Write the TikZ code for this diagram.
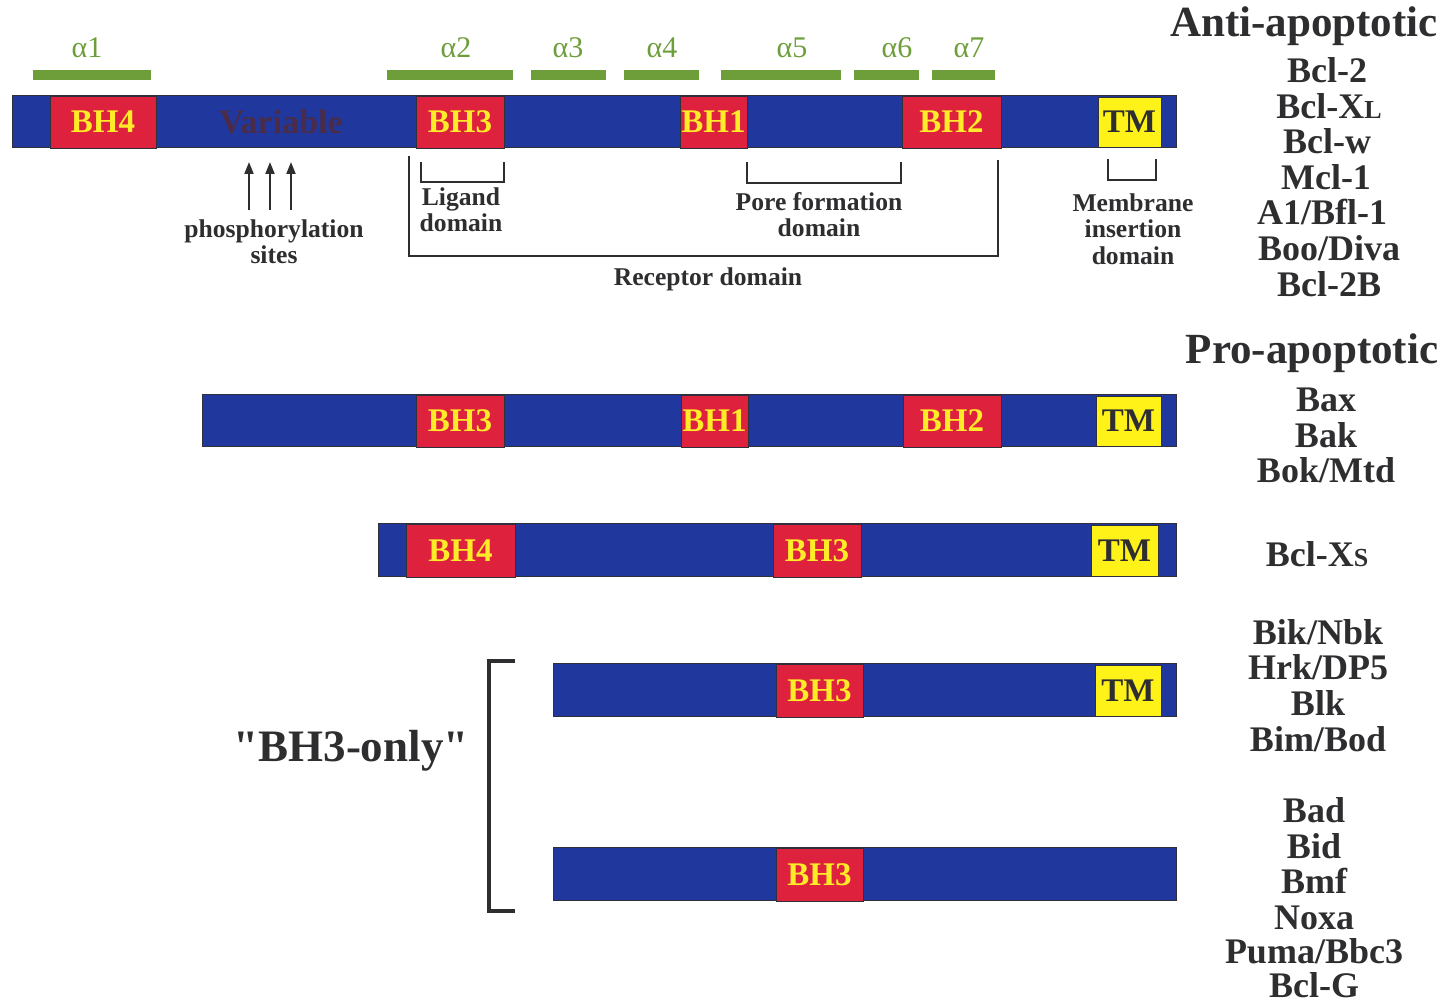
\documentclass[tikz,border=0pt]{standalone}
\usepackage{fontspec}
\setmainfont{Liberation Serif}
\newfontfamily\straightquotes{Liberation Serif}[Ligatures=TeXOff]
\usetikzlibrary{arrows.meta}

\definecolor{barblue}{RGB}{32,56,158}
\definecolor{bhred}{RGB}{222,34,62}
\definecolor{tmyellow}{RGB}{255,242,24}
\definecolor{bhyellow}{RGB}{255,236,40}
\definecolor{helixgreen}{RGB}{110,158,58}
\definecolor{inkgray}{RGB}{46,46,48}
\definecolor{edgegray}{RGB}{48,48,60}
\definecolor{varcolor}{RGB}{74,44,72}

\tikzset{
  protein/.style={fill=barblue, draw=edgegray, line width=0.5pt},
  bhbox/.style={fill=bhred, draw=edgegray, line width=0.4pt},
  tmbox/.style={fill=tmyellow, draw=edgegray, line width=0.4pt},
  bhlabel/.style={text=bhyellow, inner sep=0pt, font=\bfseries\fontsize{16.5}{18}\selectfont},
  tmlabel/.style={text=inkgray, inner sep=0pt, font=\bfseries\fontsize{16.5}{18}\selectfont},
  helix/.style={fill=helixgreen},
  helixlabel/.style={text=helixgreen, anchor=base, inner sep=0pt, font=\fontsize{15}{17}\selectfont},
  small/.style={text=inkgray, anchor=base, inner sep=0pt, font=\bfseries\fontsize{12.8}{14}\selectfont},
  family/.style={text=inkgray, anchor=base, inner sep=0pt, font=\bfseries\fontsize{18}{20}\selectfont},
  heading/.style={text=inkgray, anchor=base, inner sep=0pt, font=\bfseries\fontsize{21.5}{24}\selectfont},
  bracket/.style={draw=inkgray, line width=1.2pt},
  phos/.style={draw=inkgray, line width=1pt, -{Triangle[length=6pt,width=4.5pt]}}
}

% one coloured motif box on a protein bar, with its label
% #1 box style, #2 label style, #3 x1, #4 x2, #5 y1, #6 y2, #7 node name, #8 text
\newcommand\motifbox[8]{%
  \draw[#1] (#3,#5) rectangle (#4,#6);
  \node[#2] (#7) at ({(#3+#4)/2},{(#5+#6)/2}) {#8};}

\begin{document}
\begin{tikzpicture}[x=0.5pt, y=-0.5pt]
\useasboundingbox (0,0) rectangle (1448,1005);

% ---------------- alpha helices ----------------
\fill[helix] (33,70) rectangle (151,80);
\fill[helix] (387,70) rectangle (513,80);
\fill[helix] (531,70) rectangle (606,80);
\fill[helix] (624,70) rectangle (699,80);
\fill[helix] (721,70) rectangle (841,80);
\fill[helix] (854,70) rectangle (919,80);
\fill[helix] (932,70) rectangle (995,80);
\node[helixlabel] (h1) at (87,58) {α1};
\node[helixlabel] (h2) at (456,58) {α2};
\node[helixlabel] (h3) at (568,58) {α3};
\node[helixlabel] (h4) at (662,58) {α4};
\node[helixlabel] (h5) at (792,58) {α5};
\node[helixlabel] (h6) at (897,58) {α6};
\node[helixlabel] (h7) at (969,58) {α7};

% ---------------- anti-apoptotic protein ----------------
\draw[protein] (12,96) rectangle (1176,148);
\motifbox{bhbox}{bhlabel}{50}{156}{96}{148}{a-bh4}{BH4}
\motifbox{bhbox}{bhlabel}{416}{504}{96}{148}{a-bh3}{BH3}
\motifbox{bhbox}{bhlabel}{680}{747}{96}{148}{a-bh1}{BH1}
\motifbox{bhbox}{bhlabel}{902}{1001}{96}{148}{a-bh2}{BH2}
\motifbox{tmbox}{tmlabel}{1098}{1161}{97}{147}{a-tm}{TM}
\node[text=varcolor, inner sep=0pt, font=\bfseries\fontsize{17}{18}\selectfont] (variable) at (281,122) {Variable};

% phosphorylation sites
\coordinate (p1b) at (249,210); \coordinate (p1t) at (249,162);
\coordinate (p2b) at (270,210); \coordinate (p2t) at (270,162);
\coordinate (p3b) at (291,210); \coordinate (p3t) at (291,162);
\draw[phos] (p1b) -- (p1t);
\draw[phos] (p2b) -- (p2t);
\draw[phos] (p3b) -- (p3t);
\node[small] (phos1) at (274,238) {phosphorylation};
\node[small] (phos2) at (274,264) {sites};

% domain brackets
\draw[bracket] (421,162) -- (421,182) -- (504,182) -- (504,162);
\node[small] (lig1) at (461,206) {Ligand};
\node[small] (lig2) at (461,232) {domain};

\draw[bracket] (409,156) -- (409,256) -- (998,256) -- (998,160);
\node[small] (rec) at (708,286) {Receptor domain};

\draw[bracket] (747,162) -- (747,183) -- (901,183) -- (901,162);
\node[small] (pore1) at (819,211) {Pore formation};
\node[small] (pore2) at (819,237) {domain};

\draw[bracket] (1108,159) -- (1108,180) -- (1156,180) -- (1156,159);
\node[small] (mem1) at (1133,212) {Membrane};
\node[small] (mem2) at (1133,238) {insertion};
\node[small] (mem3) at (1133,265) {domain};

% ---------------- multidomain pro-apoptotic ----------------
\draw[protein] (202,395) rectangle (1176,447);
\motifbox{bhbox}{bhlabel}{416}{504}{395}{447}{b-bh3}{BH3}
\motifbox{bhbox}{bhlabel}{681}{748}{395}{447}{b-bh1}{BH1}
\motifbox{bhbox}{bhlabel}{903}{1001}{395}{447}{b-bh2}{BH2}
\motifbox{tmbox}{tmlabel}{1096}{1161}{396}{446}{b-tm}{TM}

% ---------------- Bcl-Xs ----------------
\draw[protein] (378,524) rectangle (1176,577);
\motifbox{bhbox}{bhlabel}{406}{515}{524}{577}{c-bh4}{BH4}
\motifbox{bhbox}{bhlabel}{773}{861}{524}{577}{c-bh3}{BH3}
\motifbox{tmbox}{tmlabel}{1091}{1158}{525}{576}{c-tm}{TM}

% ---------------- BH3-only ----------------
\draw[protein] (553,664) rectangle (1176,717);
\motifbox{bhbox}{bhlabel}{776}{863}{664}{717}{d-bh3}{BH3}
\motifbox{tmbox}{tmlabel}{1095}{1161}{665}{716}{d-tm}{TM}

\draw[protein] (553,848) rectangle (1176,901);
\motifbox{bhbox}{bhlabel}{776}{863}{848}{901}{e-bh3}{BH3}

\draw[draw=inkgray, line width=2pt] (515,661) -- (489,661) -- (489,911) -- (515,911);
\node[text=inkgray, anchor=base, inner sep=0pt, font=\straightquotes\bfseries\fontsize{22.5}{24}\selectfont] (bh3only) at (351,762) {"BH3-only"};

% ---------------- family members ----------------
\node[heading] (anti) at (1304,37) {Anti-apoptotic};
\node[family] (f1) at (1327,83) {Bcl-2};
\node[family] (f2) at (1329,118.5) {Bcl-X{\fontsize{13}{14}\selectfont L}};
\node[family] (f3) at (1327,154) {Bcl-w};
\node[family] (f4) at (1326,190) {Mcl-1};
\node[family] (f5) at (1322,225) {A1/Bfl-1};
\node[family] (f6) at (1329,261) {Boo/Diva};
\node[family] (f7) at (1329,296.5) {Bcl-2B};

\node[heading] (pro) at (1312,364) {Pro-apoptotic};
\node[family] (g1) at (1326,412) {Bax};
\node[family] (g2) at (1326,448) {Bak};
\node[family] (g3) at (1326,483) {Bok/Mtd};

\node[family] (g4) at (1317,567) {Bcl-X{\fontsize{13}{14}\selectfont S}};

\node[family] (g5) at (1318,645) {Bik/Nbk};
\node[family] (g6) at (1318,680) {Hrk/DP5};
\node[family] (g7) at (1318,716) {Blk};
\node[family] (g8) at (1318,752) {Bim/Bod};

\node[family] (g9) at (1314,823) {Bad};
\node[family] (g10) at (1314,859) {Bid};
\node[family] (g11) at (1314,894) {Bmf};
\node[family] (g12) at (1314,929) {Noxa};
\node[family] (g13) at (1314,964) {Puma/Bbc3};
\node[family] (g14) at (1314,998) {Bcl-G};
\end{tikzpicture}
\end{document}
